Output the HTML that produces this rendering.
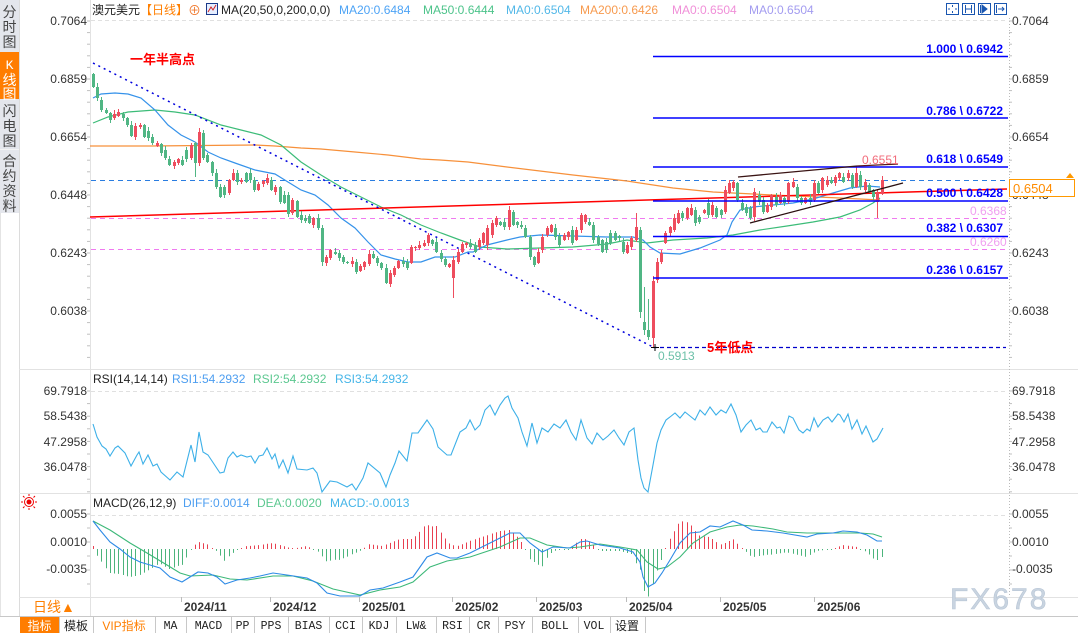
<!DOCTYPE html>
<html><head><meta charset="utf-8">
<style>
html,body{margin:0;padding:0;background:#fff;}
body{width:1078px;height:633px;overflow:hidden;position:relative;}
svg{position:absolute;left:0;top:0;}
text{font-family:"Liberation Sans","Noto Sans CJK SC",sans-serif;font-size:12px;}
.ax{fill:#333;}
.fb{fill:#0000ff;font-weight:bold;}
.tb{font-family:"Liberation Mono","Noto Sans CJK SC",monospace;font-size:11.5px;fill:#222;}
.cj{font-family:"Liberation Sans","Noto Sans CJK SC",sans-serif;font-size:12px;fill:#222;}
.sd{font-family:"Liberation Sans","Noto Sans CJK SC",sans-serif;font-size:14px;fill:#444;}
.dt{font-weight:bold;fill:#333;}
</style></head><body>
<svg width="1078" height="633" viewBox="0 0 1078 633" xmlns="http://www.w3.org/2000/svg">
<!-- sidebar -->
<rect x="0" y="0" width="19" height="213" fill="#e4e6ec"/>
<rect x="0" y="52" width="19" height="47" fill="#ff7d00"/>
<line x1="0" y1="149.5" x2="19" y2="149.5" stroke="#f4f4f4"/>
<g class="sd" text-anchor="middle">
<text x="9.5" y="17" class="sd">分</text><text x="9.5" y="32" class="sd">时</text><text x="9.5" y="47" class="sd">图</text>
<text x="9.5" y="69" class="sd" style="fill:#fff;font-family:'Liberation Mono',monospace;font-size:13px">K</text><text x="9.5" y="85" class="sd" style="fill:#fff">线</text><text x="9.5" y="99" class="sd" style="fill:#fff">图</text>
<text x="9.5" y="116" class="sd">闪</text><text x="9.5" y="131" class="sd">电</text><text x="9.5" y="146" class="sd">图</text>
<text x="9.5" y="166" class="sd">合</text><text x="9.5" y="181" class="sd">约</text><text x="9.5" y="196" class="sd">资</text><text x="9.5" y="211" class="sd">料</text>
</g>
<line x1="19.5" y1="0" x2="19.5" y2="617" stroke="#dcdcdc"/>
<line x1="0.5" y1="213" x2="0.5" y2="617" stroke="#e4e4e4"/>

<!-- panel lines -->
<g stroke="#e2e2e2">
<line x1="19" y1="369.5" x2="1078" y2="369.5"/>
<line x1="19" y1="493.5" x2="1078" y2="493.5"/>
<line x1="19" y1="597.5" x2="1078" y2="597.5"/>
<line x1="90.5" y1="0" x2="90.5" y2="617"/>
</g>
<line x1="1009.5" y1="18" x2="1009.5" y2="597" stroke="#bbb" stroke-dasharray="1,2"/>
<g stroke="#e0e0e0" stroke-dasharray="4,3">
<line x1="91" y1="20.5" x2="1006" y2="20.5"/>
<line x1="91" y1="391.5" x2="1006" y2="391.5"/>
<line x1="91" y1="515.5" x2="1006" y2="515.5"/>
</g>
<g id="ticks" stroke="#c0c0c0"></g>

<!-- header -->
<text x="92" y="14" class="cj">澳元美元</text>
<text x="140" y="14" class="cj" style="fill:#ff7f00">【日线】</text>
<text x="188" y="15" style="fill:#f07a30;font-size:13px">⊕</text>
<rect x="206.5" y="3.5" width="11" height="11" fill="#e6eeff" stroke="#1a3a8a"/>
<polyline points="208,12 211,7 213,10 216,5" fill="none" stroke="#d02020"/>
<text x="221" y="14" style="fill:#222">MA(20,50,0,200,0,0)</text>
<text x="339" y="14" style="fill:#4da3f5">MA20:0.6484</text>
<text x="423" y="14" style="fill:#4cc38a">MA50:0.6444</text>
<text x="506" y="14" style="fill:#52b8e8">MA0:0.6504</text>
<text x="580" y="14" style="fill:#f79a4e">MA200:0.6426</text>
<text x="672" y="14" style="fill:#f08fd8">MA0:0.6504</text>
<text x="749" y="14" style="fill:#a39cf0">MA0:0.6504</text>
<!-- top right icons -->
<g stroke="#1a56b0" fill="none">
<rect x="946.5" y="3.5" width="12" height="11"/>
<rect x="962.5" y="3.5" width="12" height="11"/>
<rect x="978.5" y="3.5" width="12" height="11"/>
<rect x="994.5" y="3.5" width="12" height="11"/>
<path d="M952.5 5v2M952.5 11v2M948 9h2M955 9h2"/>
<path d="M965.5 5v8M971.5 5v8M966 9h5"/>
<path d="M980.5 5v8"/><path d="M982 5l5 4-5 4z" fill="#1a56b0"/>
<path d="M996.5 5v8M998 9h6M1002 7l2 2-2 2"/>
</g>

<!-- axis labels main -->
<g class="ax">
<text x="87" y="25" text-anchor="end" class="ax">0.7064</text>
<text x="87" y="83" text-anchor="end" class="ax">0.6859</text>
<text x="87" y="141" text-anchor="end" class="ax">0.6654</text>
<text x="87" y="199" text-anchor="end" class="ax">0.6448</text>
<text x="87" y="257" text-anchor="end" class="ax">0.6243</text>
<text x="87" y="315" text-anchor="end" class="ax">0.6038</text>
<text x="1012" y="25" class="ax">0.7064</text>
<text x="1012" y="83" class="ax">0.6859</text>
<text x="1012" y="141" class="ax">0.6654</text>
<text x="1012" y="199" class="ax">0.6448</text>
<text x="1012" y="257" class="ax">0.6243</text>
<text x="1012" y="315" class="ax">0.6038</text>
<text x="87" y="395" text-anchor="end" class="ax">69.7918</text>
<text x="87" y="420" text-anchor="end" class="ax">58.5438</text>
<text x="87" y="446" text-anchor="end" class="ax">47.2958</text>
<text x="87" y="471" text-anchor="end" class="ax">36.0478</text>
<text x="1012" y="395" class="ax">69.7918</text>
<text x="1012" y="420" class="ax">58.5438</text>
<text x="1012" y="446" class="ax">47.2958</text>
<text x="1012" y="471" class="ax">36.0478</text>
<text x="87" y="518" text-anchor="end" class="ax">0.0055</text>
<text x="87" y="546" text-anchor="end" class="ax">0.0010</text>
<text x="87" y="573" text-anchor="end" class="ax">-0.0035</text>
<text x="1012" y="518" class="ax">0.0055</text>
<text x="1012" y="546" class="ax">0.0010</text>
<text x="1012" y="573" class="ax">-0.0035</text>
</g>

<!-- reference lines -->
<line x1="91" y1="180.5" x2="1009" y2="180.5" stroke="#2a7de1" stroke-dasharray="5,4"/>
<line x1="91" y1="218.5" x2="1006" y2="218.5" stroke="#f07af0" stroke-dasharray="5,4"/>
<line x1="91" y1="249.5" x2="1006" y2="249.5" stroke="#f07af0" stroke-dasharray="5,4"/>
<text x="970" y="215" style="fill:#f0a0f0">0.6368</text>
<text x="970" y="246" style="fill:#f0a0f0">0.6260</text>

<!-- MAs -->
<polyline fill="none" stroke="#f7903a" stroke-width="1.2" points="90,146 150,146 255,145 275,146 301,148 321,149 355,152 388,155 421,159 440,160 468,162 507,167 573,175 627,181 673,188 713,192 773,195 840,198 880,200"/>
<polyline fill="none" stroke="#3cbc78" stroke-width="1.2" points="93,123 108,117 128,112 155,110 175,112 195,115 221,125 241,130 261,135 281,145 301,162 321,175 341,187 361,197 381,207 401,215 421,225 441,233 460,240 480,247 507,249 540,248 573,247 607,244 627,240 647,243 673,240 707,238 733,235 760,230 787,226 813,222 840,217 860,210 873,203 880,198"/>
<polyline fill="none" stroke="#3592ea" stroke-width="1.2" points="93,98 101,94 115,93 128,94 141,98 155,110 168,125 181,135 195,142 208,152 221,158 235,163 255,170 275,174 288,182 301,190 315,195 328,205 341,218 355,228 368,242 381,255 395,259 408,262 421,262 435,257 455,257 468,252 473,252 487,245 507,240 520,237 540,235 573,236 607,237 633,237 643,240 650,247 660,253 680,254 700,248 720,240 727,235 732,222 740,210 753,207 773,205 793,203 813,199 833,193 850,188 867,186 880,187"/>
<!-- red trend -->
<line x1="90" y1="217" x2="1007" y2="189" stroke="#ff0000" stroke-width="1.5"/>
<!-- blue dotted trend -->
<line x1="93" y1="63" x2="653" y2="347" stroke="#0000dd" stroke-width="1.5" stroke-dasharray="2,4"/>
<!-- low dashed -->
<line x1="653" y1="347.5" x2="1006" y2="347.5" stroke="#0000cc" stroke-width="1.2" stroke-dasharray="4,3"/>

<!-- candles -->
<g id="candles"></g>

<!-- fib lines -->
<g stroke="#0000ff" stroke-width="1.6">
<line x1="653" y1="56.5" x2="1008" y2="56.5"/>
<line x1="653" y1="118" x2="1008" y2="118"/>
<line x1="653" y1="167" x2="1008" y2="167"/>
<line x1="653" y1="201" x2="1008" y2="201"/>
<line x1="653" y1="236.5" x2="1008" y2="236.5"/>
<line x1="653" y1="278" x2="1008" y2="278"/>
</g>
<g text-anchor="end">
<text x="1003" y="53" class="fb">1.000 \ 0.6942</text>
<text x="1003" y="115" class="fb">0.786 \ 0.6722</text>
<text x="1003" y="163" class="fb">0.618 \ 0.6549</text>
<text x="1003" y="197" class="fb">0.500 \ 0.6428</text>
<text x="1003" y="232" class="fb">0.382 \ 0.6307</text>
<text x="1003" y="274" class="fb">0.236 \ 0.6157</text>
</g>
<!-- wedge -->
<line x1="738" y1="177" x2="857" y2="166" stroke="#3a1414" stroke-width="1.3"/>
<line x1="857" y1="166" x2="898" y2="164" stroke="#5a1a1a" stroke-width="1.3"/>
<line x1="750" y1="223" x2="903" y2="183" stroke="#2a1010" stroke-width="1.3"/>
<text x="862" y="164" style="fill:#f26b7a">0.6551</text>
<path d="M651 347.5h8M655 344v7" stroke="#000" stroke-width="1"/>
<text x="658" y="360" style="fill:#6cc0a8">0.5913</text>
<text x="707" y="352" style="fill:#ff0000;font-weight:bold;font-size:13px">5年低点</text>
<text x="130" y="64" style="fill:#ff0000;font-weight:bold;font-size:13px">一年半高点</text>

<!-- price box -->
<rect x="1009.5" y="179.5" width="65" height="17" fill="#fff" stroke="#ff9900"/>
<text x="1013" y="193" style="fill:#ff8c00;font-size:13px">0.6504</text>
<path d="M1066 178l4-5 4 5z" fill="#ff9900"/><line x1="1066" y1="179.5" x2="1074" y2="179.5" stroke="#ff9900"/>

<!-- RSI -->
<text x="93" y="383" style="fill:#222">RSI(14,14,14)</text>
<text x="172" y="383" style="fill:#4d9ef0">RSI1:54.2932</text>
<text x="253" y="383" style="fill:#5cc890">RSI2:54.2932</text>
<text x="335" y="383" style="fill:#45b5e8">RSI3:54.2932</text>
<polyline id="rsi" fill="none" stroke="#3db0e8" stroke-width="1.1" points=""/>

<!-- MACD -->
<g transform="translate(29,502)">
<circle r="2.5" fill="#e00"/><circle r="4.5" fill="none" stroke="#e00" stroke-width="1"/>
<path d="M0 -8v2M0 6v2M-8 0h2M6 0h2M-6 -6l1.5 1.5M4.5 4.5l1.5 1.5M6 -6l-1.5 1.5M-4.5 4.5l-1.5 1.5" stroke="#e00"/>
</g>
<text x="93" y="507" style="fill:#222">MACD(26,12,9)</text>
<text x="183" y="507" style="fill:#4d9ef0">DIFF:0.0014</text>
<text x="257" y="507" style="fill:#5cc890">DEA:0.0020</text>
<text x="330" y="507" style="fill:#45b5e8">MACD:-0.0013</text>
<g id="bars"></g>
<polyline id="dea" fill="none" stroke="#3cb878" stroke-width="1.1" points=""/>
<polyline id="diff" fill="none" stroke="#2d8ae6" stroke-width="1.1" points=""/>

<!-- watermark -->
<text x="950" y="609" style="font-size:30px;fill:#c9d4e0;letter-spacing:2px;stroke:#b8c6d6;stroke-width:0.6">FX678</text>

<!-- date axis -->
<g id="dates"></g>
<text x="33" y="612" style="fill:#ff7f00;font-size:14px">日线▲</text>

<!-- toolbar -->
<line x1="0" y1="616.5" x2="1078" y2="616.5" stroke="#c8c8c8"/>
<rect x="20" y="617" width="39" height="16" fill="#ff7d00"/>
<g id="tbsep" stroke="#c8c8c8"></g>
<text x="39.5" y="630" text-anchor="middle" class="cj" style="fill:#fff">指标</text>
<text x="76" y="630" text-anchor="middle" class="cj">模板</text>
<text x="124" y="630" text-anchor="middle" class="cj" style="fill:#ff7f00">VIP指标</text>
<g text-anchor="middle">
<text x="170.5" y="629" class="tb">MA</text>
<text x="208.5" y="629" class="tb">MACD</text>
<text x="242.5" y="629" class="tb">PP</text>
<text x="271" y="629" class="tb">PPS</text>
<text x="308.5" y="629" class="tb">BIAS</text>
<text x="345.5" y="629" class="tb">CCI</text>
<text x="379" y="629" class="tb">KDJ</text>
<text x="416" y="629" class="tb">LW&amp;</text>
<text x="452.5" y="629" class="tb">RSI</text>
<text x="483.5" y="629" class="tb">CR</text>
<text x="515" y="629" class="tb">PSY</text>
<text x="555" y="629" class="tb">BOLL</text>
<text x="594" y="629" class="tb">VOL</text>
<text x="627" y="630" class="cj">设置</text>
</g>
</svg>
<script>
(function(){
var S="74,87,0 87,98,0 100,110,0 110,113,0 113,120,0 114,118,1 112,116,1 114,118,0 118,125,0 125,136,0 126,137,1 125,127,1 125,137,0 131,138,0 137,143,0 143,146,1 144,153,0 150,158,0 159,165,0 162,166,1 159,163,1 160,165,0 150,159,0 145,158,1 143,163,0 132,163,1 133,158,0 155,162,0 162,173,0 173,187,0 187,197,0 187,195,0 180,193,1 173,180,1 173,182,0 180,182,1 173,182,0 173,180,0 180,190,0 184,190,1 181,184,1 178,183,1 180,190,0 187,192,1 187,202,0 195,203,0 195,214,0 200,213,1 201,217,0 215,220,0 218,221,0 216,223,0 218,225,1 218,228,0 228,262,0 257,263,1 250,258,1 252,254,0 253,258,0 257,262,0 262,263,0 261,264,1 262,272,0 266,271,1 262,267,1 254,264,1 254,258,0 258,263,0 263,268,0 268,283,0 273,284,1 268,275,1 261,268,1 261,264,0 262,268,0 247,263,1 247,248,1 245,248,1 243,246,1 235,243,1 240,244,0 242,252,0 253,259,0 259,265,0 264,267,1 260,278,1 252,262,1 244,252,1 243,245,1 "+
"243,247,0 245,252,0 240,247,1 233,243,1 228,245,1 223,235,1 218,225,1 222,225,0 222,227,0 210,227,1 212,225,0 222,225,0 225,227,0 228,237,0 237,257,0 257,265,0 252,263,1 237,250,1 228,235,1 225,232,1 228,237,0 236,245,0 235,240,1 232,237,1 230,243,0 230,240,1 215,230,1 215,222,1 222,225,0 225,240,0 237,244,0 240,252,0 242,250,0 233,243,0 233,240,0 236,238,0 242,252,0 245,253,1 238,247,1 227,240,1 230,312,0 322,330,0 330,337,0 281,338,1 262,280,1 253,262,1 233,243,1 227,233,1 218,230,1 213,223,1 213,218,0 208,218,1 208,215,1 210,223,0 217,222,0 210,213,1 203,215,0 205,215,1 208,217,0 210,215,0 190,212,1 183,193,1 182,188,1 183,200,0 203,210,0 207,213,0 208,218,0 192,217,1 195,202,0 200,212,0 205,212,1 195,207,1 197,205,0 195,203,1 198,203,0 183,202,1 182,187,1 187,198,0 198,203,0 198,203,1 198,202,0 183,200,1 183,193,0 178,190,1 180,185,1 180,183,0 177,183,1 173,178,1 177,182,0 173,178,1 175,187,0 173,187,1 175,187,0 182,190,1 185,192,0 190,197,0 193,202,1 180,194,1";
var W={24:[0,177],25:[128,0],46:[192,0],54:[0,266],85:[0,298],93:[225,250],98:[206,230],128:[213,0],129:[227,318],130:[287,335],131:[299,340],132:[276,348],149:[186,214],156:[188,221],180:[166,0],185:[0,218],186:[176,0]};
var C=S.trim().split(/\s+/).map(function(t){return t.split(',').map(Number);});
var s='',X=[];
for(var i=0;i<C.length;i++){
 var x=93+i*4.24, xr=Math.round(x)+0.5; X.push(xr);
 var t=C[i][0],b=C[i][1],r=C[i][2]; if(b-t<1)b=t+1;
 var wt=t-1-((i*7)%4), wb=b+1+((i*5)%3);
 if(W[i]){ if(W[i][0])wt=W[i][0]; if(W[i][1])wb=W[i][1]; }
 var col=r?'#ee4d5e':'#50b684';
 s+='<line x1="'+xr+'" y1="'+wt+'" x2="'+xr+'" y2="'+wb+'" stroke="'+col+'"/>';
 s+='<rect x="'+(xr-1.5)+'" y="'+t+'" width="3" height="'+(b-t)+'" fill="'+col+'"/>';
}
document.getElementById('candles').innerHTML=s;

var RSI=[[93,424],[97,437],[102,446],[106,449],[110,456],[115,448],[118,446],[125,453],[131,466],[137,455],[139,452],[143,464],[148,455],[153,466],[157,464],[161,472],[170,480],[177,472],[183,477],[191,445],[195,462],[199,432],[203,452],[208,455],[220,473],[224,472],[228,458],[233,452],[237,457],[241,455],[247,457],[251,456],[255,463],[259,456],[263,455],[267,448],[272,459],[275,454],[279,468],[283,460],[288,473],[293,456],[297,469],[307,470],[313,468],[317,473],[322,492],[330,481],[337,482],[347,487],[352,484],[356,490],[363,478],[368,463],[380,473],[386,487],[390,475],[395,463],[399,451],[407,461],[412,433],[418,433],[427,420],[433,429],[438,447],[447,455],[451,455],[460,432],[466,428],[470,420],[475,430],[480,425],[485,410],[490,405],[495,415],[500,405],[505,398],[508,396],[512,408],[518,418],[522,432],[527,446],[532,423],[537,443],[542,428],[548,432],[554,424],[560,428],[566,420],[571,432],[576,440],[581,420],[587,438],[592,444],[597,433],[603,440],[608,436],[614,430],[619,438],[624,445],[629,432],[634,428],[638,460],[641,478],[644,488],[648,492],[653,465],[657,443],[661,430],[666,420],[670,417],[675,413],[680,418],[685,412],[690,416],[695,420],[700,410],[705,415],[710,407],[716,415],[721,410],[726,413],[731,404],[736,415],[741,432],[746,425],[751,420],[756,430],[760,428],[763,432],[767,432],[772,422],[777,428],[780,427],[784,433],[789,416],[793,418],[799,430],[803,433],[807,429],[810,431],[814,418],[818,427],[823,420],[828,417],[832,422],[838,414],[840,415],[844,422],[848,414],[852,429],[857,420],[862,434],[866,426],[873,442],[877,439],[883,428]];
document.getElementById('rsi').setAttribute('points',RSI.map(function(p){return p.join(',');}).join(' '));

var DIFF=[[93,521],[100,530],[110,542],[120,549],[130,557],[140,562],[150,565],[160,568],[170,577],[182,582],[190,577],[198,572],[208,573],[217,577],[225,584],[237,580],[250,578],[260,576],[273,573],[287,575],[307,578],[317,583],[327,593],[340,596],[360,596],[370,590],[383,588],[400,582],[413,577],[427,557],[437,553],[450,558],[457,558],[470,553],[490,543],[510,533],[520,533],[530,543],[542,552],[553,547],[570,548],[580,542],[587,541],[600,545],[620,548],[633,552],[640,562],[643,577],[648,587],[655,583],[662,573],[670,560],[680,543],[690,533],[700,532],[710,526],[720,527],[733,521],[743,525],[752,530],[767,531],[783,533],[807,537],[817,534],[833,533],[843,531],[857,532],[867,535],[877,541],[882,541]];
var DEA=[[93,521],[110,530],[130,543],[147,553],[167,565],[180,573],[190,576],[213,575],[230,579],[247,580],[273,576],[293,576],[313,581],[333,589],[360,595],[380,590],[400,587],[413,582],[430,567],[447,561],[470,557],[500,547],[520,538],[530,538],[547,545],[567,548],[580,547],[600,544],[620,547],[637,550],[647,562],[658,569],[667,567],[680,557],[693,543],[710,532],[727,527],[740,525],[753,526],[773,529],[787,532],[807,533],[833,533],[860,533],[873,534],[882,537]];
function ip(P,x){ if(x<=P[0][0])return P[0][1]; for(var k=1;k<P.length;k++){ if(x<=P[k][0]){ var a=P[k-1],b=P[k]; return a[1]+(b[1]-a[1])*(x-a[0])/(b[0]-a[0]); } } return P[P.length-1][1]; }
document.getElementById('diff').setAttribute('points',DIFF.map(function(p){return p.join(',');}).join(' '));
document.getElementById('dea').setAttribute('points',DEA.map(function(p){return p.join(',');}).join(' '));
var bs='';
for(var j=0;j<X.length;j++){
 var x=X[j]; var h=2*(ip(DEA,x)-ip(DIFF,x));
 if(j==0)h=3;
 if(Math.abs(h)<1)h=h<0?-1:1;
 var y2=549-h; if(y2>597)y2=597;
 bs+='<line x1="'+x+'" y1="549" x2="'+x+'" y2="'+y2.toFixed(1)+'" stroke="'+(h>0?'#e84050':'#4cb47c')+'"/>';
}
document.getElementById('bars').innerHTML=bs;

var ds=[['2024/11',184],['2024/12',273],['2025/01',362],['2025/02',455],['2025/03',539],['2025/04',629],['2025/05',723],['2025/06',817]];
var d='';
ds.forEach(function(a){ d+='<line x1="'+(a[1]-2.5)+'" y1="597" x2="'+(a[1]-2.5)+'" y2="602" stroke="#bbb"/><text x="'+a[1]+'" y="611" class="dt">'+a[0]+'</text>'; });
document.getElementById('dates').innerHTML=d;

var sep=[59,93,155,186,231,254,288,329,362,396,436,469,498,532,578,610,645];
var q='';
sep.forEach(function(v){ q+='<line x1="'+(v+0.5)+'" y1="617" x2="'+(v+0.5)+'" y2="633"/>'; });
document.getElementById('tbsep').innerHTML=q;

var tk='';
for(var y=21;y<369;y+=11.6){ tk+='<line x1="87" y1="'+y.toFixed(1)+'" x2="90" y2="'+y.toFixed(1)+'"/><line x1="1009" y1="'+y.toFixed(1)+'" x2="1012" y2="'+y.toFixed(1)+'"/>'; }
for(var y=391;y<493;y+=12.6){ tk+='<line x1="87" y1="'+y.toFixed(1)+'" x2="90" y2="'+y.toFixed(1)+'"/><line x1="1009" y1="'+y.toFixed(1)+'" x2="1012" y2="'+y.toFixed(1)+'"/>'; }
for(var y=514;y<597;y+=14){ tk+='<line x1="87" y1="'+y.toFixed(1)+'" x2="90" y2="'+y.toFixed(1)+'"/><line x1="1009" y1="'+y.toFixed(1)+'" x2="1012" y2="'+y.toFixed(1)+'"/>'; }
document.getElementById('ticks').innerHTML=tk;
})();
</script>
</body></html>
